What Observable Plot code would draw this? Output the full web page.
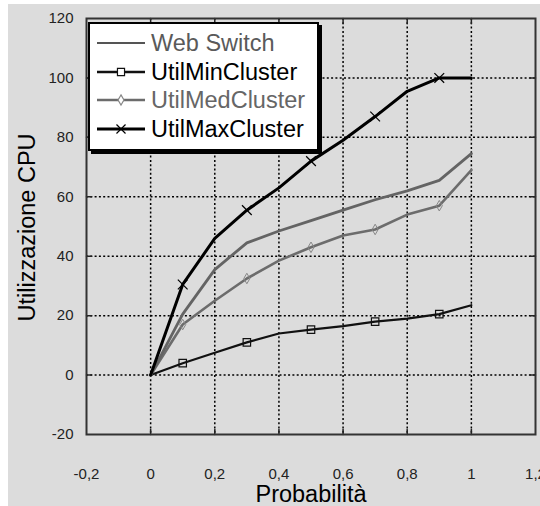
<!DOCTYPE html>
<html><head><meta charset="utf-8">
<script src="https://cdn.jsdelivr.net/npm/d3@7"></script>
<script src="https://cdn.jsdelivr.net/npm/@observablehq/plot@0.6"></script>
<style>
html,body{margin:0;padding:0;background:#fff;}
#wrap{position:relative;width:540px;height:506px;overflow:hidden;font-family:"Liberation Sans",Arial,sans-serif;}
#bg{position:absolute;left:8px;top:4px;right:0;bottom:0;background:#dcdcdc;}
#chart{position:absolute;left:0;top:0;}
#legend{position:absolute;left:88px;top:22px;width:227px;height:125px;background:#fff;border:2px solid #000;box-shadow:3px 3px 0 #000;}
</style>
</head><body>
<div id="wrap"><div id="bg"></div><div id="chart"></div><div id="legend"></div></div>
<script>
const probs      = [0, 0.1, 0.2, 0.3, 0.4, 0.5, 0.6, 0.7, 0.8, 0.9, 1];
const webSwitch  = [0, 20.5, 35.5, 44.5, 48.5, 52, 55.5, 59, 62, 65.5, 74.5];
const utilMin    = [0, 4, 7.5, 11, 14, 15.3, 16.5, 18, 19, 20.5, 23.5];
const utilMed    = [0, 17, 25, 32.5, 38.5, 43, 47, 49, 54, 57, 69];
const utilMax    = [0, 30.5, 46, 55.5, 63, 72, 79, 87, 95.5, 100, 100];
const markerProbs = [0.1, 0.3, 0.5, 0.7, 0.9];
const seriesNames = ["Web Switch", "UtilMinCluster", "UtilMedCluster", "UtilMaxCluster"];
const xTicks = [-0.2, 0, 0.2, 0.4, 0.6, 0.8, 1, 1.2];
const xTickLabels = ["-0,2", "0", "0,2", "0,4", "0,6", "0,8", "1", "1,2"];
const yTicks = [-20, 0, 20, 40, 60, 80, 100, 120];
const yTickLabels = ["-20", "0", "20", "40", "60", "80", "100", "120"];
const xTitle = "Probabilità";
const yTitle = "Utilizzazione CPU";

const rows = (vals) => probs.map((p, i) => ({x: p, y: vals[i]}));
const marks = (vals) => rows(vals).filter(d => markerProbs.some(m => Math.abs(m - d.x) < 1e-9));

const tickShape = {draw(context, l) { context.moveTo(0, 0); context.lineTo(0, -l); }};
const innerX = xTicks.slice(1, -1);
const innerY = yTicks.slice(1, -1);

const plot = Plot.plot({
  width: 540, height: 506,
  marginLeft: 86, marginRight: 5, marginTop: 18, marginBottom: 72,
  style: {background: "transparent", fontFamily: "'Liberation Sans', Arial, sans-serif", fontSize: "15px", color: "#222"},
  x: {domain: [-0.2, 1.2]},
  y: {domain: [-20, 120]},
  marks: [
    Plot.ruleX(innerX, {stroke: "#000", strokeWidth: 1.5, strokeDasharray: "2,2.3"}),
    Plot.ruleY(innerY, {stroke: "#000", strokeWidth: 1.5, strokeDasharray: "2,2.3"}),
    Plot.vector(innerX, {x: d => d, frameAnchor: "bottom", length: 5, rotate: 0, anchor: "start", shape: tickShape, stroke: "#222", strokeWidth: 1.5}),
    Plot.vector(innerX, {x: d => d, frameAnchor: "top", length: 5, rotate: 180, anchor: "start", shape: tickShape, stroke: "#222", strokeWidth: 1.5}),
    Plot.vector(innerY, {y: d => d, frameAnchor: "left", length: 5, rotate: 90, anchor: "start", shape: tickShape, stroke: "#222", strokeWidth: 1.5}),
    Plot.vector(innerY, {y: d => d, frameAnchor: "right", length: 5, rotate: -90, anchor: "start", shape: tickShape, stroke: "#222", strokeWidth: 1.5}),
    Plot.axisX(xTicks, {tickSize: 0, tickPadding: 34, tickFormat: (d, i) => xTickLabels[i], label: null, fontSize: 15, fill: "#222"}),
    Plot.axisY(yTicks, {tickSize: 0, tickPadding: 13, tickFormat: (d, i) => yTickLabels[i], label: null, fontSize: 15, fill: "#222"}),
    Plot.frame({stroke: "#333", strokeWidth: 2}),
    Plot.line(rows(utilMin), {x: "x", y: "y", stroke: "#111", strokeWidth: 2.2}),
    Plot.dot(marks(utilMin), {x: "x", y: "y", symbol: "square", r: 4.2, stroke: "#111", strokeWidth: 1.2, fill: "none"}),
    Plot.line(rows(utilMed), {x: "x", y: "y", stroke: "#6c6c6c", strokeWidth: 2.6}),
    Plot.dot(marks(utilMed), {x: "x", y: "y", symbol: "diamond", r: 3.2, stroke: "#888", strokeWidth: 1, fill: "none"}),
    Plot.line(rows(webSwitch), {x: "x", y: "y", stroke: "#646464", strokeWidth: 2.8}),
    Plot.line(rows(utilMax), {x: "x", y: "y", stroke: "#000", strokeWidth: 3}),
    Plot.dot(marks(utilMax), {x: "x", y: "y", symbol: "times", r: 4.5, stroke: "#000", strokeWidth: 1.2}),
    Plot.text([xTitle], {frameAnchor: "bottom", lineAnchor: "middle", textAnchor: "middle", dy: 60, fontSize: 23.5, fill: "#000"}),
    Plot.text([yTitle], {frameAnchor: "left", lineAnchor: "middle", textAnchor: "middle", dx: -59, dy: 1, rotate: -90, fontSize: 23.5, fill: "#000"})
  ]
});
document.getElementById("chart").appendChild(plot);

// Legend (drawn inside the plot area, top-left)
const legendStyles = [
  {stroke: "#555", width: 2, text: "#5a5a5a", symbol: null},
  {stroke: "#111", width: 2.6, text: "#000", symbol: d3.symbolSquare, mfill: "#fff", mstroke: "#111", size: 50},
  {stroke: "#6c6c6c", width: 2.6, text: "#666", symbol: d3.symbolDiamond, mfill: "#fff", mstroke: "#888", size: 30},
  {stroke: "#000", width: 3, text: "#000", symbol: d3.symbolTimes, mfill: "none", mstroke: "#000", size: 55}
];
const lsvg = d3.select("#legend").append("svg").attr("width", 227).attr("height", 125)
  .style("font-family", "'Liberation Sans', Arial, sans-serif");
const rowY = [19, 48, 76, 105];
seriesNames.forEach((name, i) => {
  const s = legendStyles[i];
  const g = lsvg.append("g").attr("transform", `translate(0,${rowY[i]})`);
  g.append("line").attr("x1", 7).attr("x2", 55).attr("y1", 0).attr("y2", 0).attr("stroke", s.stroke).attr("stroke-width", s.width);
  if (s.symbol) {
    g.append("path").attr("d", d3.symbol(s.symbol, s.size)()).attr("transform", "translate(31,0)")
      .attr("fill", s.mfill).attr("stroke", s.mstroke).attr("stroke-width", 1.2);
  }
  g.append("text").attr("x", 61).attr("y", 0).attr("dy", "0.36em").attr("font-size", 23.5).attr("fill", s.text).text(name);
});
</script>
</body></html>
